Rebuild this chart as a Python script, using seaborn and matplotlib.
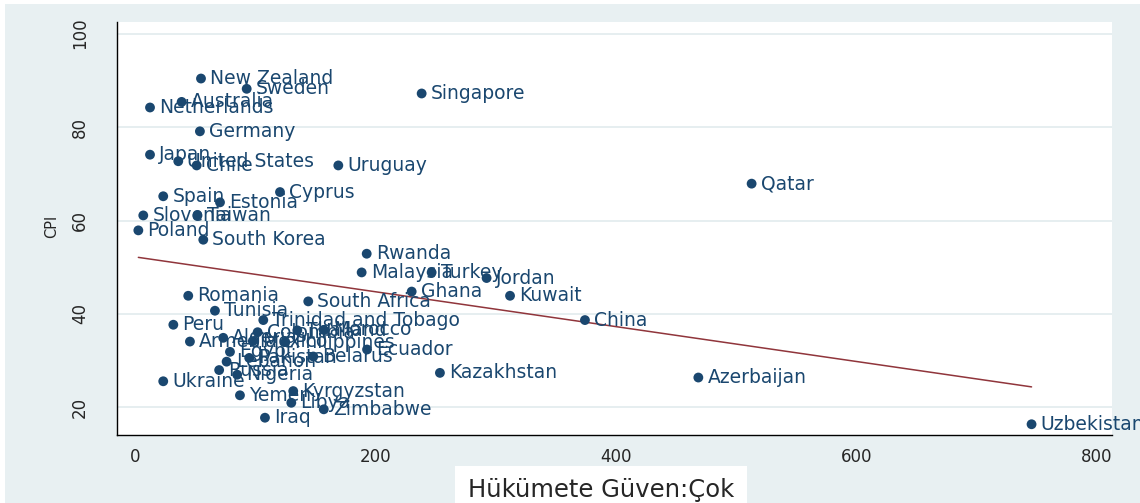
import matplotlib
matplotlib.use("Agg")
import matplotlib.pyplot as plt
import seaborn as sns
import pandas as pd
from matplotlib.patches import Rectangle

# values
countries = ["New Zealand", "Sweden", "Singapore", "Australia", "Netherlands", "Germany",
             "Japan", "United States", "Chile", "Uruguay", "Cyprus", "Spain", "Estonia",
             "Slovenia", "Taiwan", "Poland", "South Korea", "Rwanda", "Malaysia", "Turkey",
             "Jordan", "Ghana", "Kuwait", "China", "Kazakhstan", "Qatar", "Azerbaijan",
             "Uzbekistan", "Romania", "South Africa", "Tunisia", "Trinidad and Tobago", "Peru",
             "Armenia", "Algeria", "Colombia", "Thailand", "Morocco", "Philippines", "Mexico",
             "Egypt", "Lebanon", "Pakistan", "Belarus", "Ecuador", "Russia", "Nigeria",
             "Ukraine", "Yemen", "Kyrgyzstan", "Libya", "Zimbabwe", "Iraq"]
trust = [54.9, 92.9, 238.4, 38.8, 12.5, 54.0,
         12.5, 36.0, 51.3, 169.1, 120.6, 23.5, 70.7,
         6.9, 52.0, 2.8, 56.8, 192.7, 188.5, 246.7,
         292.4, 230.1, 311.9, 374.2, 253.6, 512.8, 468.5,
         745.6, 44.3, 144.1, 66.5, 106.7, 31.9,
         45.7, 73.4, 102.0, 135.0, 157.0, 125.0, 98.0,
         79.0, 76.2, 95.0, 148.3, 193.0, 70.0, 85.0,
         23.5, 87.3, 131.6, 130.0, 157.0, 108.1]
cpi = [90.4, 88.2, 87.2, 85.4, 84.2, 79.1,
       74.1, 72.7, 71.8, 71.8, 66.1, 65.2, 63.9,
       61.1, 61.1, 57.9, 55.9, 52.9, 48.9, 48.9,
       47.7, 44.8, 43.9, 38.7, 27.4, 67.9, 26.4,
       16.4, 43.9, 42.7, 40.7, 38.7, 37.7,
       34.1, 34.9, 36.1, 36.5, 36.6, 34.0, 34.2,
       31.9, 29.8, 30.6, 30.9, 32.4, 28.0, 27.0,
       25.6, 22.6, 23.5, 21.0, 19.6, 17.8]

x_ticks = [0, 200, 400, 600, 800]
y_ticks = [20, 40, 60, 80, 100]

navy = "#1a476f"
maroon = "#90353b"
bg = "#e8f0f2"

df = pd.DataFrame({"country": countries, "trust": trust, "cpi": cpi})

sns.set_style("white")
plt.rcParams["font.family"] = ["DejaVu Sans"]

fig = plt.figure(figsize=(11.4, 5.03), dpi=100, facecolor="white")
fig.patches.append(Rectangle((5 / 1140, 0), 1, 1 - 4 / 503, transform=fig.transFigure,
                             facecolor=bg, edgecolor="none", zorder=-10))
ax = fig.add_axes([116.7 / 1140, 1 - 435 / 503, (1112 - 116.7) / 1140, (435 - 22) / 503])
ax.set_facecolor("white")

# fitted line (lfit) from the same data
sns.regplot(data=df, x="trust", y="cpi", scatter=False, ci=None, ax=ax,
            line_kws={"color": maroon, "lw": 1.1})
sns.scatterplot(data=df, x="trust", y="cpi", color=navy, s=50, edgecolor="none",
                ax=ax, zorder=3, clip_on=False)

for name, xv, yv in zip(countries, trust, cpi):
    ax.annotate(name, (xv, yv), xytext=(6.5, 0), textcoords="offset points",
                ha="left", va="center", fontsize=13.5, color=navy,
                annotation_clip=False)

ax.set_xlim(-15.2, 812.5)
ax.set_ylim(14.1, 102.5)
ax.set_xticks(x_ticks)
ax.set_yticks(y_ticks)
ax.grid(axis="y", color="#e6eef0", lw=1.4)
ax.grid(axis="x", visible=False)
for side in ["top", "right"]:
    ax.spines[side].set_visible(False)
for side in ["left", "bottom"]:
    ax.spines[side].set_color("black")
    ax.spines[side].set_linewidth(1.0)

ax.tick_params(axis="both", direction="out", length=7, width=1, color="black",
               labelsize=12)
ax.tick_params(axis="x", pad=2)
ax.tick_params(axis="y", pad=13)
for lab in ax.get_yticklabels():
    lab.set_rotation(90)
    lab.set_va("center")

ax.set_ylabel("CPI", fontsize=10.5)
ax.yaxis.set_label_coords(-0.058, 0.504)
ax.set_xlabel("Hükümete Güven:Çok", fontsize=17.5,
              bbox=dict(facecolor="white", edgecolor="none", pad=9))
ax.xaxis.set_label_coords(0.4866, -0.105)

fig.savefig("out.png", dpi=100, facecolor=fig.get_facecolor())
